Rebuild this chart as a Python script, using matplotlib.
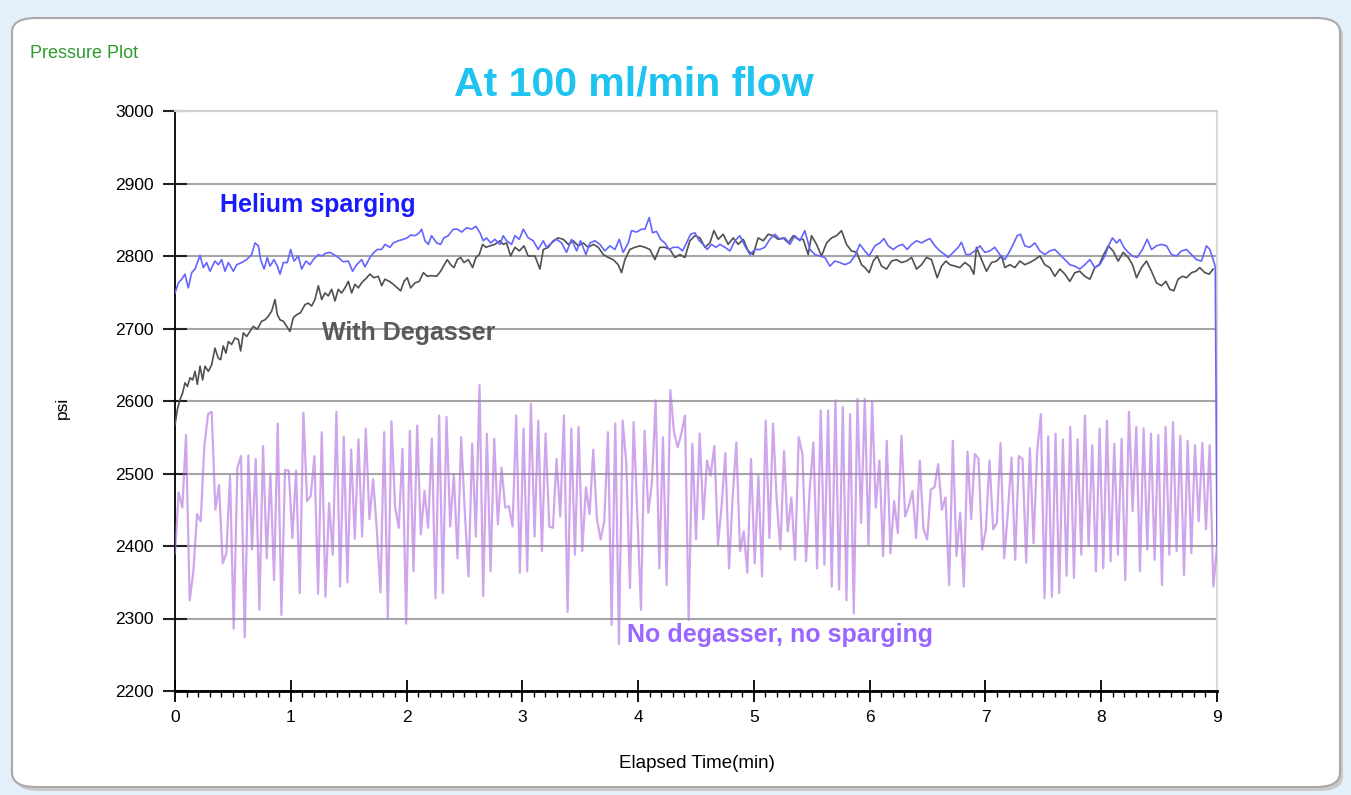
import numpy as np
import matplotlib
matplotlib.use("Agg")
import matplotlib.pyplot as plt
from matplotlib.patches import FancyBboxPatch

# ---------------- data ----------------
helium_time = [
    0.000, 0.029, 0.058, 0.086, 0.115, 0.144, 0.173, 0.216, 0.245, 0.273,
    0.302, 0.345, 0.374, 0.403, 0.432, 0.461, 0.504, 0.533, 0.576, 0.619,
    0.662, 0.691, 0.720, 0.740, 0.769, 0.797, 0.820, 0.855, 0.884, 0.907,
    0.936, 0.970, 0.999, 1.028, 1.065, 1.094, 1.131, 1.166, 1.195, 1.238,
    1.267, 1.304, 1.339, 1.382, 1.410, 1.454, 1.497, 1.534, 1.569, 1.612,
    1.641, 1.684, 1.718, 1.747, 1.785, 1.813, 1.857, 1.885, 1.929, 1.972,
    2.006, 2.035, 2.073, 2.110, 2.130, 2.159, 2.188, 2.216, 2.260, 2.294,
    2.323, 2.360, 2.404, 2.438, 2.476, 2.519, 2.562, 2.599, 2.634, 2.663,
    2.691, 2.726, 2.763, 2.807, 2.835, 2.864, 2.907, 2.936, 2.974, 3.008,
    3.051,
    3.094, 3.137, 3.181, 3.209, 3.253, 3.296, 3.339, 3.382, 3.425, 3.469,
    3.503, 3.549, 3.584, 3.627, 3.670, 3.713, 3.756, 3.800, 3.837, 3.871,
    3.915, 3.943, 3.987, 4.030, 4.059, 4.096, 4.125, 4.159, 4.194, 4.231,
    4.268, 4.303, 4.347, 4.384, 4.418, 4.453, 4.491, 4.528, 4.562, 4.597,
    4.634, 4.672, 4.706, 4.750, 4.793, 4.836, 4.879, 4.922, 4.966, 5.009,
    5.052, 5.095, 5.138, 5.181, 5.225, 5.268, 5.311, 5.354, 5.397, 5.440,
    5.484, 5.527, 5.570, 5.613, 5.656, 5.699, 5.743, 5.786, 5.829, 5.872,
    5.915, 5.958, 5.995,
    6.045, 6.088, 6.123, 6.160, 6.203, 6.246, 6.284, 6.324, 6.362, 6.405,
    6.448, 6.491, 6.520, 6.563, 6.606, 6.649, 6.678, 6.721, 6.765, 6.793,
    6.831, 6.865, 6.908, 6.952, 6.995, 7.038, 7.081, 7.124, 7.168, 7.211,
    7.245, 7.274, 7.303, 7.340, 7.383, 7.427, 7.470, 7.513, 7.556, 7.599,
    7.643, 7.686, 7.729, 7.772, 7.815, 7.858, 7.902, 7.945, 7.988, 8.031,
    8.069, 8.097, 8.132, 8.161, 8.195, 8.233, 8.270, 8.310, 8.356, 8.397,
    8.434, 8.477, 8.521, 8.564, 8.607, 8.650, 8.693, 8.736, 8.780, 8.823,
    8.866, 8.909, 8.938, 8.967, 8.985, 9.000,
]
helium_psi = [
    2749, 2763, 2768, 2775, 2756, 2777, 2782, 2801, 2784, 2791,
    2779, 2793, 2788, 2795, 2779, 2791, 2779, 2788, 2791, 2795,
    2802, 2818, 2814, 2795, 2782, 2798, 2786, 2795, 2786, 2775,
    2791, 2791, 2809, 2793, 2800, 2782, 2793, 2788, 2795, 2802,
    2800, 2804, 2805, 2801, 2798, 2792, 2793, 2779, 2788, 2795,
    2785, 2798, 2805, 2809, 2809, 2816, 2812, 2818, 2821, 2823,
    2825, 2829, 2828, 2832, 2837, 2821, 2816, 2828, 2818, 2816,
    2825, 2828, 2837, 2837, 2833, 2839, 2837, 2841, 2832, 2821,
    2825, 2818, 2823, 2816, 2828, 2821, 2816, 2828, 2823, 2837,
    2825,
    2821, 2809, 2821, 2812, 2818, 2823, 2818, 2805, 2823, 2807,
    2821, 2802, 2818, 2821, 2816, 2807, 2814, 2809, 2823, 2805,
    2818, 2835, 2833, 2837, 2837, 2853, 2832, 2834, 2823, 2818,
    2809, 2812, 2812, 2807, 2818, 2830, 2832, 2821, 2816, 2809,
    2816, 2812, 2816, 2812, 2807, 2821, 2828, 2814, 2802, 2809,
    2809, 2812, 2823, 2830, 2823, 2825, 2816, 2828, 2821, 2835,
    2809, 2802, 2800, 2798, 2786, 2793, 2791, 2788, 2791, 2800,
    2816, 2807, 2800,
    2814, 2818, 2824, 2814, 2809, 2814, 2816, 2809, 2816, 2821,
    2818, 2822, 2824, 2814, 2807, 2802, 2798, 2805, 2812, 2819,
    2802, 2802, 2807, 2814, 2805, 2807, 2812, 2802, 2795, 2807,
    2818, 2828, 2830, 2814, 2812, 2818, 2807, 2802, 2807, 2809,
    2802, 2795, 2788, 2786, 2782, 2788, 2795, 2784, 2788, 2800,
    2816, 2825, 2818, 2823, 2812, 2805, 2800, 2798, 2809, 2823,
    2809, 2814, 2816, 2814, 2802, 2800, 2807, 2809, 2802, 2795,
    2793, 2814, 2809, 2795, 2785, 2400,
]

degasser_time = [
    0.000, 0.020, 0.043, 0.066, 0.086, 0.107, 0.130, 0.153, 0.173, 0.193,
    0.216, 0.239, 0.259, 0.288, 0.317, 0.345, 0.374, 0.394, 0.417, 0.440,
    0.461, 0.489, 0.518, 0.547, 0.567, 0.590, 0.619, 0.648, 0.676, 0.711,
    0.748, 0.777, 0.806, 0.835, 0.864, 0.884, 0.907, 0.936, 0.964, 0.993,
    1.022, 1.051, 1.085, 1.123, 1.151, 1.180, 1.209, 1.238, 1.267, 1.295,
    1.324, 1.353, 1.382, 1.410, 1.439, 1.468, 1.497, 1.526, 1.554, 1.583,
    1.612, 1.655, 1.684, 1.718, 1.756, 1.785, 1.813, 1.851, 1.885, 1.920,
    1.949, 1.978, 2.006, 2.035, 2.073, 2.110, 2.145, 2.179, 2.216, 2.260,
    2.294, 2.323, 2.352, 2.381, 2.409, 2.438, 2.467, 2.496, 2.533, 2.571,
    2.599, 2.628, 2.657, 2.686, 2.720, 2.763, 2.807, 2.835, 2.864, 2.899,
    2.936, 2.974, 3.014, 3.051,
    3.109, 3.152, 3.181, 3.224, 3.267, 3.310, 3.354, 3.397, 3.440, 3.483,
    3.526, 3.569, 3.613, 3.656, 3.699, 3.742, 3.785, 3.828, 3.857, 3.886,
    3.929, 3.972, 4.016, 4.059, 4.102, 4.145, 4.188, 4.231, 4.275, 4.318,
    4.361, 4.404, 4.447, 4.491, 4.534, 4.577, 4.620, 4.655, 4.692, 4.735,
    4.778, 4.821, 4.865, 4.908, 4.951, 4.994, 5.037, 5.081, 5.124, 5.167,
    5.210, 5.253, 5.297, 5.340, 5.383, 5.426, 5.469, 5.498, 5.541, 5.584,
    5.628, 5.671, 5.714, 5.757, 5.800, 5.843, 5.887, 5.930, 5.959, 5.996,
    6.031, 6.065, 6.103, 6.146, 6.189, 6.232, 6.275, 6.318, 6.362, 6.405,
    6.448, 6.491, 6.534, 6.583, 6.621, 6.658, 6.693, 6.736, 6.779, 6.822,
    6.865, 6.900, 6.923, 6.966, 7.009, 7.052, 7.096, 7.139, 7.168, 7.211,
    7.254, 7.297, 7.340, 7.383, 7.427, 7.470, 7.513, 7.556, 7.599, 7.643,
    7.686, 7.729, 7.772, 7.815, 7.858, 7.902, 7.945, 7.982, 8.022, 8.060,
    8.103, 8.146, 8.190, 8.233, 8.270, 8.305, 8.348, 8.391, 8.434, 8.477,
    8.521, 8.558, 8.593, 8.627, 8.664, 8.702, 8.736, 8.780, 8.817, 8.851,
    8.895, 8.932, 8.967,
]
degasser_psi = [
    2567, 2588, 2602, 2611, 2625, 2620, 2632, 2629, 2641, 2623,
    2648, 2629, 2648, 2641, 2650, 2673, 2659, 2657, 2676, 2666,
    2682, 2678, 2687, 2685, 2669, 2694, 2689, 2696, 2703, 2699,
    2710, 2712, 2717, 2724, 2740, 2719, 2712, 2710, 2703, 2696,
    2715, 2719, 2722, 2733, 2735, 2731, 2740, 2759, 2740, 2749,
    2745, 2754, 2738, 2754, 2749, 2756, 2765, 2749, 2761, 2756,
    2763, 2770, 2775, 2770, 2772, 2759, 2768, 2765, 2761, 2756,
    2752, 2765, 2770, 2756, 2763, 2765, 2777, 2772, 2773, 2772,
    2779, 2787, 2795, 2788, 2784, 2795, 2798, 2791, 2795, 2784,
    2798, 2802, 2816, 2812, 2814, 2816, 2821, 2816, 2818, 2800,
    2812, 2807, 2814, 2800,
    2800, 2782, 2809, 2812, 2821, 2825, 2823, 2816, 2821, 2814,
    2818, 2812, 2816, 2812, 2802, 2798, 2795, 2788, 2777, 2795,
    2809, 2812, 2814, 2812, 2809, 2795, 2812, 2812, 2809, 2798,
    2802, 2798, 2821, 2828, 2825, 2812, 2818, 2835, 2823, 2830,
    2816, 2825, 2816, 2823, 2807, 2802, 2825, 2821, 2830, 2828,
    2823, 2825, 2818, 2828, 2823, 2823, 2802, 2828, 2816, 2800,
    2818, 2825, 2828, 2835, 2816, 2807, 2805, 2788, 2784, 2777,
    2793, 2800, 2786, 2782, 2793, 2795, 2791, 2793, 2798, 2782,
    2788, 2798, 2795, 2770, 2786, 2793, 2788, 2786, 2784, 2791,
    2786, 2775, 2812, 2795, 2779, 2791, 2793, 2800, 2784, 2788,
    2784, 2793, 2788, 2791, 2795, 2800, 2788, 2784, 2772, 2782,
    2775, 2765, 2777, 2779, 2772, 2768, 2784, 2788, 2802, 2814,
    2807, 2793, 2805, 2798, 2788, 2770, 2784, 2793, 2779, 2763,
    2759, 2765, 2754, 2752, 2768, 2772, 2770, 2777, 2779, 2784,
    2777, 2775, 2782,
]

# No degasser, no sparging: samples evenly spaced over the 9-minute run
nodegas_end_time = 9.0
nodegas_psi = [
    2390, 2474, 2453, 2553, 2325, 2365, 2444, 2434, 2538, 2582,
    2585, 2450, 2484, 2376, 2390, 2497, 2286, 2508, 2524, 2274,
    2525, 2395, 2520, 2312, 2538, 2383, 2500, 2353, 2569, 2305,
    2505, 2504, 2411, 2504, 2335, 2584, 2462, 2469, 2524, 2334,
    2557, 2330, 2459, 2388, 2585, 2344, 2551, 2350, 2533, 2410,
    2547, 2413, 2562, 2437, 2492, 2423, 2336, 2557, 2300, 2572,
    2453, 2425, 2534, 2293, 2559, 2365, 2566, 2416, 2476, 2425,
    2548, 2328, 2580,
    2335, 2578, 2427, 2499, 2383, 2550, 2446, 2358, 2541, 2413,
    2622, 2331, 2555, 2365, 2548, 2430, 2508, 2453, 2455, 2427,
    2580, 2363, 2562, 2365, 2596, 2413, 2573, 2393, 2555, 2427,
    2425, 2520, 2441, 2580, 2309, 2562, 2388, 2564, 2393, 2481,
    2444, 2533, 2437, 2409, 2434, 2557, 2291, 2569, 2265, 2573,
    2515, 2342, 2571, 2446, 2312, 2559, 2446, 2488, 2601, 2369,
    2550, 2346, 2615, 2557, 2536, 2555, 2580, 2298, 2541, 2409,
    2555, 2437, 2518, 2497, 2538, 2402, 2457, 2528, 2369, 2469,
    2543, 2393, 2420, 2363, 2520, 2376, 2497, 2358, 2573, 2411,
    2569, 2462, 2395, 2531, 2420, 2467, 2381, 2550, 2527, 2379,
    2478, 2543, 2369, 2587, 2374, 2587, 2344, 2601, 2340, 2592,
    2325, 2582, 2307, 2603, 2432, 2603, 2402, 2599, 2453, 2518,
    2386, 2545, 2390, 2462, 2418, 2552, 2441, 2455, 2476, 2411,
    2518, 2423, 2409, 2478, 2481, 2513, 2450, 2467, 2346, 2545,
    2386, 2446, 2344, 2530, 2437, 2527, 2520, 2395, 2423, 2518,
    2423, 2432, 2542, 2383, 2446, 2522, 2381, 2524, 2520, 2377,
    2535, 2404, 2532, 2582, 2328, 2551, 2330, 2555, 2335, 2547,
    2359, 2564, 2356, 2547, 2388, 2580, 2400, 2539, 2365, 2562,
    2369, 2573, 2379, 2541, 2388, 2548, 2353, 2585, 2448, 2564,
    2365, 2562, 2395, 2555, 2381, 2553, 2346, 2564, 2388, 2571,
    2393, 2552, 2360, 2545, 2390, 2539, 2434, 2542, 2423, 2539,
    2344, 2400,
]

y_ticks = [2200, 2300, 2400, 2500, 2600, 2700, 2800, 2900, 3000]
x_ticks = [0, 1, 2, 3, 4, 5, 6, 7, 8, 9]

title_text = "At 100 ml/min flow"
panel_title = "Pressure Plot"
label_helium = "Helium sparging"
label_degasser = "With Degasser"
label_nodegas = "No degasser, no sparging"

# ---------------- figure ----------------
W, H = 1351, 795
fig = plt.figure(figsize=(W / 100, H / 100), dpi=100)
fig.patch.set_facecolor("#e3effb")

narrow = ["Liberation Sans Narrow", "Liberation Sans", "DejaVu Sans"]
boldf = ["Liberation Sans", "DejaVu Sans"]

# white rounded panel with soft shadow
shadow = FancyBboxPatch((15 / W, 1 - 791 / H), (1328) / W, (770) / H,
                        boxstyle="round,pad=0,rounding_size=0.018",
                        transform=fig.transFigure, facecolor="#c9c9c9",
                        edgecolor="none", zorder=-3)
panel = FancyBboxPatch((12 / W, 1 - 787 / H), (1328) / W, (769) / H,
                       boxstyle="round,pad=0,rounding_size=0.018",
                       transform=fig.transFigure, facecolor="white",
                       edgecolor="#a9a9a9", lw=1.5, zorder=-2)
fig.patches.extend([shadow, panel])

ax = fig.add_axes([175 / W, 1 - 691 / H, (1217 - 175) / W, (691 - 111) / H])
ax.set_facecolor("white")

nodegas_time = np.linspace(0, nodegas_end_time, len(nodegas_psi))
ax.plot(nodegas_time, nodegas_psi, color="#b26ee0", lw=1.6, alpha=0.62, zorder=3)
ax.plot(degasser_time, degasser_psi, color="#505050", lw=1.2, zorder=4)
ax.plot(helium_time, helium_psi, color="#6464ff", lw=1.2, zorder=5)

ax.set_xlim(0, 9)
ax.set_ylim(2200, 3000)
ax.set_xticks(x_ticks)
ax.set_xticks(np.arange(0, 9.001, 0.1), minor=True)
ax.set_yticks(y_ticks)
ax.set_xticklabels([str(v) for v in x_ticks], family=narrow, fontsize=12.5)
ax.set_yticklabels([str(v) for v in y_ticks], family=narrow, fontsize=12.5)

ax.tick_params(axis="x", which="major", direction="inout", length=16,
               width=1.3, color="black", pad=6)
ax.tick_params(axis="x", which="minor", direction="out", length=4.5,
               width=1.0, color="black")
ax.tick_params(axis="y", which="major", direction="inout", length=17,
               width=1.5, color="#222222", pad=7)

ax.grid(axis="y", color="#a6a6a6", lw=1.5, zorder=1)
ax.set_axisbelow(True)
ax.spines["left"].set_color("black")
ax.spines["left"].set_linewidth(1.3)
ax.spines["bottom"].set_color("black")
ax.spines["bottom"].set_linewidth(2.0)
ax.spines["top"].set_color("#cfcfcf")
ax.spines["top"].set_linewidth(1.5)
ax.spines["right"].set_color("#d9d9d9")
ax.spines["right"].set_linewidth(1.5)

# annotations
ax.text(0.389, 2861, label_helium, color="#1a1aff", fontsize=18,
        fontweight="bold", family=boldf, va="baseline", ha="left", zorder=6)
ax.text(1.27, 2684, label_degasser, color="#595959", fontsize=18,
        fontweight="bold", family=boldf, va="baseline", ha="left", zorder=6)
ax.text(3.90, 2268, label_nodegas, color="#9966ff", fontsize=18,
        fontweight="bold", family=boldf, va="baseline", ha="left", zorder=6)

fig.text(634 / W, 1 - 96 / H, title_text, color="#1ec3f0", fontsize=29.5,
         fontweight="bold", family=boldf, ha="center", va="baseline")
fig.text(30 / W, 1 - 53 / H, panel_title, color="#2e9a2e", fontsize=13,
         family=narrow, ha="left", va="center")
fig.text(62 / W, 1 - 408 / H, "psi", fontsize=12.5, family=narrow,
         rotation=90, ha="center", va="center")
fig.text(697 / W, 1 - 763 / H, "Elapsed Time(min)", fontsize=13.5,
         family=narrow, ha="center", va="center")

fig.savefig("out.png", dpi=100, facecolor=fig.get_facecolor())
